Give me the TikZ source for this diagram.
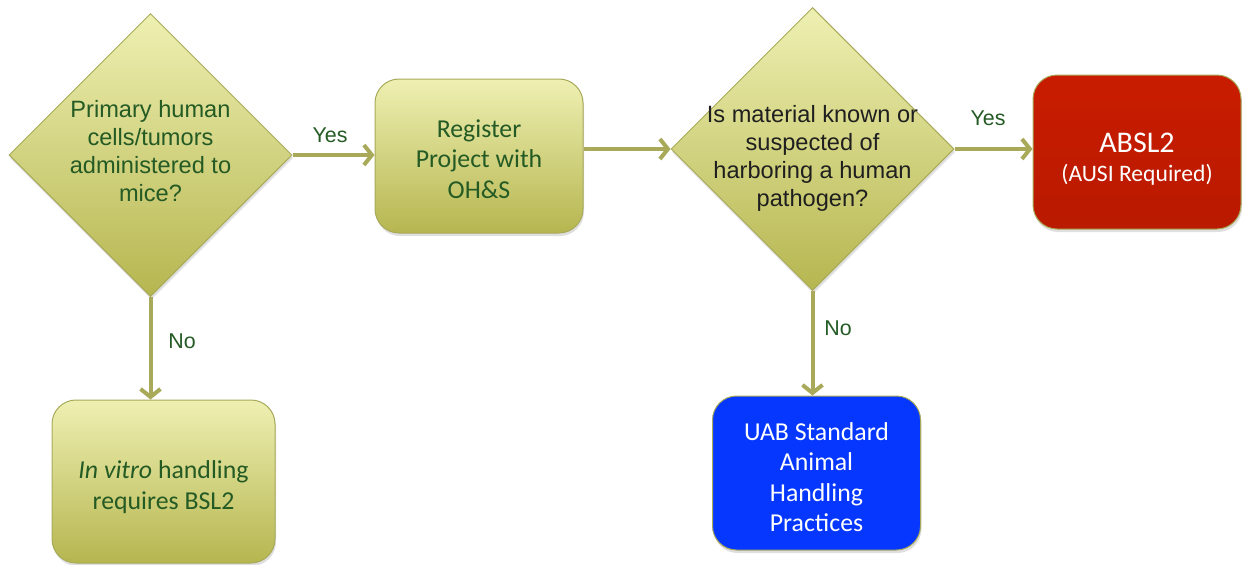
\documentclass[tikz,border=0pt]{standalone}
\usepackage{fontspec}
\setmainfont{Carlito}
\newfontfamily\arialfont{Liberation Sans}
\usetikzlibrary{shapes.geometric,arrows.meta,shadows}
\definecolor{olivetop}{HTML}{EEF0B2}
\definecolor{olivebot}{HTML}{B6B650}
\definecolor{oliveline}{HTML}{A8AA5A}
\definecolor{textgreen}{HTML}{245A24}
\definecolor{absred}{HTML}{C91C00}
\definecolor{uabblue}{HTML}{0537FF}
\newcommand{\lift}[1]{\rule{0pt}{#1}}
\begin{document}
\begin{tikzpicture}[x=0.5pt,y=-0.5pt,
    softshadow/.style={drop shadow={opacity=0.25,shadow xshift=0.5pt,shadow yshift=-1.5pt}},
    decision/.style={diamond, draw=oliveline, line width=0.5pt, top color=olivetop, bottom color=olivebot,
      softshadow, minimum width=141.5pt, minimum height=141.5pt, inner sep=0pt},
    question/.style={align=center, font=\arialfont\fontsize{11.8}{14}\selectfont, text=textgreen},
    stepbox/.style={rounded corners=12pt, draw=oliveline, line width=0.5pt, top color=olivetop, bottom color=olivebot,
      softshadow, minimum width=104pt, minimum height=77pt, align=center,
      font=\fontsize{12.9}{15.2}\selectfont, text=textgreen},
    answer/.style={font=\arialfont\fontsize{10.7}{12}\selectfont, text=textgreen},
    arrow/.style={draw=oliveline, line width=2pt, -{Straight Barb[length=4pt,width=10pt]}}]
  \useasboundingbox (0,0) rectangle (1246,564);

  % decisions
  \node[decision] (q1) at (150.5,155) {};
  \node[question] (q1text) at (150.5,151) {Primary human\\cells/tumors\\administered to\\mice?};
  \node[decision] (q2) at (812.5,149) {};
  \node[question, text=black!88] (q2text) at (812.5,158) {Is material known or\\suspected of\\harboring a human\\pathogen?};

  % outcomes
  \node[stepbox] (reg) at (479,156) {\lift{12pt}Register\\Project with\\OH\&S};
  \node[stepbox, minimum width=111.5pt, minimum height=81.5pt, font=\fontsize{12.9}{15.5}\selectfont] (vitro) at (163.5,481.5)
    {\lift{15pt}\textit{In vitro} handling\\requires BSL2};
  \node[stepbox, top color=absred, bottom color=absred!92!black, text=white] (absl) at (1137,152)
    {{\fontsize{15}{17}\selectfont\lift{17pt}ABSL2}\\[-1pt]{\fontsize{11.8}{13}\selectfont (AUSI Required)}};
  \node[stepbox, top color=uabblue, bottom color=uabblue, text=white] (uab) at (816.5,473)
    {\lift{13pt}UAB Standard\\Animal\\Handling\\Practices};

  % connectors
  \draw[arrow] (q1.east) -- (q1.east -| reg.west);
  \draw[arrow] (reg.east |- q2.west) -- (q2.west);
  \draw[arrow] (q2.east) -- (q2.east -| absl.west);
  \draw[arrow] (q1.south) -- (q1.south |- vitro.north);
  \draw[arrow] (q2.south) -- (q2.south |- uab.north);

  \node[answer] (yes1) at (330,135) {Yes};
  \node[answer] (yes2) at (988,118) {Yes};
  \node[answer] (no1) at (182,341) {No};
  \node[answer] (no2) at (838,328) {No};
\end{tikzpicture}
\end{document}
